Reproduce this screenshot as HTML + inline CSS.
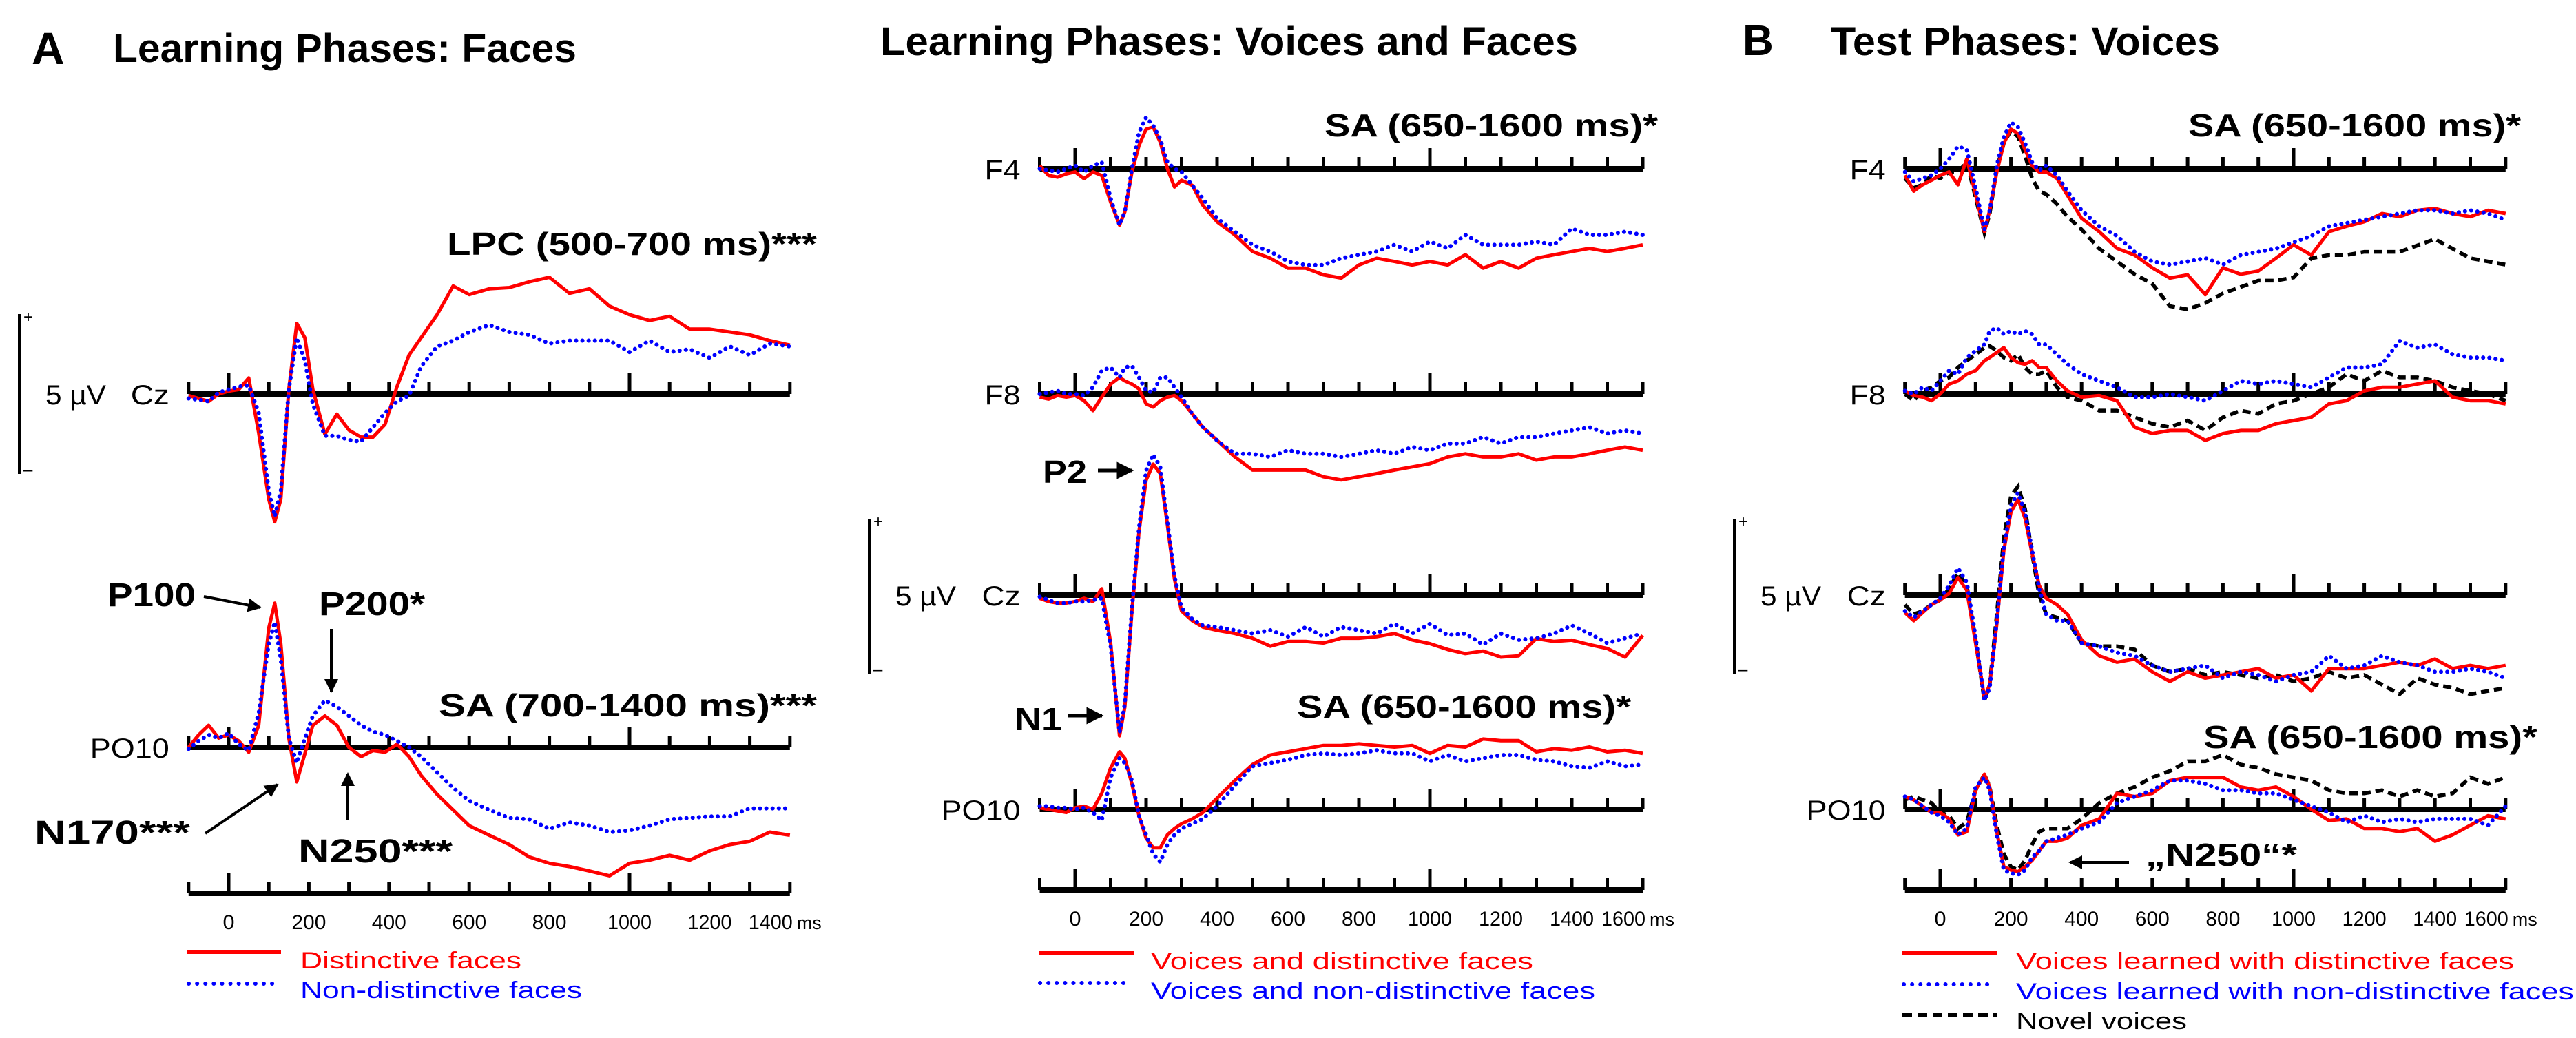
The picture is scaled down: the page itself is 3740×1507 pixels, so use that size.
<!DOCTYPE html>
<html><head><meta charset="utf-8"><style>
html,body{margin:0;padding:0;background:#fff;}
svg{display:block;}
text{font-family:"Liberation Sans",Arial,sans-serif;}
.b{font-weight:bold;}
</style></head><body>
<svg id="fig" width="3740" height="1507" viewBox="0 0 3740 1507" xmlns="http://www.w3.org/2000/svg">
<defs><marker id="ah" viewBox="0 0 10 10" refX="9" refY="5" markerWidth="5" markerHeight="5" orient="auto"><path d="M0,0 L10,5 L0,10 z" fill="#000"/></marker></defs>
<g>
<text class="b" x="46" y="93" font-size="66">A</text>
<text class="b" x="164" y="90" font-size="58" textLength="673" lengthAdjust="spacingAndGlyphs">Learning Phases: Faces</text>
<text class="b" x="1278" y="80" font-size="58" textLength="1013" lengthAdjust="spacingAndGlyphs">Learning Phases: Voices and Faces</text>
<text class="b" x="2530" y="80" font-size="62">B</text>
<text class="b" x="2658" y="80" font-size="58" textLength="565" lengthAdjust="spacingAndGlyphs">Test Phases: Voices</text>
</g>
<g id="plots"></g>
<g>
<text class="b" x="649" y="370" font-size="46" textLength="537" lengthAdjust="spacingAndGlyphs">LPC (500-700 ms)***</text>
<text class="b" x="156" y="880" font-size="48" textLength="128" lengthAdjust="spacingAndGlyphs">P100</text>
<line x1="296" y1="866" x2="378" y2="882" stroke="#000" stroke-width="4" marker-end="url(#ah)"/>
<text class="b" x="463" y="893" font-size="48" textLength="154" lengthAdjust="spacingAndGlyphs">P200*</text>
<line x1="481" y1="913" x2="481" y2="1004" stroke="#000" stroke-width="4" marker-end="url(#ah)"/>
<text class="b" x="637" y="1040" font-size="46" textLength="549" lengthAdjust="spacingAndGlyphs">SA (700-1400 ms)***</text>
<text class="b" x="50" y="1225" font-size="48" textLength="226" lengthAdjust="spacingAndGlyphs">N170***</text>
<line x1="298" y1="1210" x2="403" y2="1139" stroke="#000" stroke-width="4" marker-end="url(#ah)"/>
<text class="b" x="433" y="1252" font-size="48" textLength="224" lengthAdjust="spacingAndGlyphs">N250***</text>
<line x1="505" y1="1190" x2="505" y2="1123" stroke="#000" stroke-width="4" marker-end="url(#ah)"/>
<text class="b" x="1923" y="198" font-size="46" textLength="484" lengthAdjust="spacingAndGlyphs">SA (650-1600 ms)*</text>
<text class="b" x="1514" y="701" font-size="46" textLength="64" lengthAdjust="spacingAndGlyphs">P2</text>
<line x1="1594" y1="683" x2="1644" y2="683" stroke="#000" stroke-width="5" marker-end="url(#ah)"/>
<text class="b" x="1473" y="1060" font-size="46" textLength="69" lengthAdjust="spacingAndGlyphs">N1</text>
<line x1="1550" y1="1039" x2="1600" y2="1039" stroke="#000" stroke-width="5" marker-end="url(#ah)"/>
<text class="b" x="1883" y="1042" font-size="46" textLength="485" lengthAdjust="spacingAndGlyphs">SA (650-1600 ms)*</text>
<text class="b" x="3177" y="198" font-size="46" textLength="483" lengthAdjust="spacingAndGlyphs">SA (650-1600 ms)*</text>
<text class="b" x="3199" y="1086" font-size="46" textLength="485" lengthAdjust="spacingAndGlyphs">SA (650-1600 ms)*</text>
<text class="b" x="3115" y="1257" font-size="46" textLength="220" lengthAdjust="spacingAndGlyphs">„N250“*</text>
<line x1="3091" y1="1252" x2="3005" y2="1252" stroke="#000" stroke-width="4" marker-end="url(#ah)"/>
</g>
<g>
<line x1="272" y1="1382" x2="408" y2="1382" stroke="#f00" stroke-width="6"/>
<text x="436" y="1406" font-size="34" fill="#f00" textLength="321" lengthAdjust="spacingAndGlyphs">Distinctive faces</text>
<line x1="274" y1="1428" x2="400" y2="1428" stroke="#00f" stroke-width="6" stroke-linecap="round" stroke-dasharray="0.1 12"/>
<text x="436" y="1449" font-size="34" fill="#00f" textLength="409" lengthAdjust="spacingAndGlyphs">Non-distinctive faces</text>
<line x1="1508" y1="1383" x2="1647" y2="1383" stroke="#f00" stroke-width="6"/>
<text x="1671" y="1407" font-size="34" fill="#f00" textLength="555" lengthAdjust="spacingAndGlyphs">Voices and distinctive faces</text>
<line x1="1510" y1="1427" x2="1640" y2="1427" stroke="#00f" stroke-width="6" stroke-linecap="round" stroke-dasharray="0.1 12"/>
<text x="1671" y="1450" font-size="34" fill="#00f" textLength="645" lengthAdjust="spacingAndGlyphs">Voices and non-distinctive faces</text>
<line x1="2762" y1="1383" x2="2900" y2="1383" stroke="#f00" stroke-width="6"/>
<text x="2927" y="1407" font-size="34" fill="#f00" textLength="723" lengthAdjust="spacingAndGlyphs">Voices learned with distinctive faces</text>
<line x1="2764" y1="1429" x2="2894" y2="1429" stroke="#00f" stroke-width="6" stroke-linecap="round" stroke-dasharray="0.1 12"/>
<text x="2927" y="1451" font-size="34" fill="#00f" textLength="810" lengthAdjust="spacingAndGlyphs">Voices learned with non-distinctive faces</text>
<line x1="2762" y1="1473" x2="2900" y2="1473" stroke="#000" stroke-width="6" stroke-dasharray="14 8"/>
<text x="2927" y="1494" font-size="34" fill="#000" textLength="248" lengthAdjust="spacingAndGlyphs">Novel voices</text>
</g>
</svg>
<script>
// ---- shared data ----
const timesLeft = [-100,-75,-50,-25,0,25,50,75,100,115,130,150,170,190,210,240,270,300,330,360,390,420,450,480,520,560,600,650,700,750,800,850,900,950,1000,1050,1100,1150,1200,1250,1300,1350,1400];
const timesMid = [-100,-75,-50,-25,0,25,50,75,100,125,140,160,180,200,220,240,260,280,300,330,360,400,450,500,550,600,650,700,750,800,850,900,950,1000,1050,1100,1150,1200,1250,1300,1350,1400,1450,1500,1550,1600];
const timesRight = timesMid;
const tickLabelsLeft = [0,200,400,600,800,1000,1200,1400];
const tickLabelsMid = [0,200,400,600,800,1000,1200,1400,1600];
// Panel A, learning faces (µV)
const leftCzDistinctive = [-0.05,-0.14,-0.23,0,0.09,0.14,0.5,-1.22,-3.29,-4.0,-3.29,0.14,2.21,1.76,0.14,-1.26,-0.63,-1.13,-1.35,-1.35,-0.95,0.23,1.22,1.76,2.48,3.38,3.11,3.29,3.33,3.51,3.65,3.15,3.29,2.75,2.48,2.3,2.43,2.03,2.03,1.94,1.85,1.67,1.53];
const leftCzNonDistinctive = [-0.14,-0.18,-0.23,0.05,0.14,0.23,0.27,-0.59,-3.02,-3.83,-3.02,0.14,1.76,1.04,-0.32,-1.31,-1.31,-1.44,-1.49,-1.04,-0.59,-0.23,-0.05,0.86,1.49,1.67,1.94,2.16,1.94,1.85,1.58,1.67,1.67,1.67,1.31,1.67,1.31,1.4,1.13,1.49,1.22,1.58,1.49];
const leftPO10Distinctive = [0,0.39,0.69,0.29,0.39,0.2,-0.15,0.69,3.73,4.51,3.24,0.29,-1.08,-0.2,0.69,0.98,0.69,0,-0.29,-0.1,-0.15,0.1,-0.29,-0.88,-1.47,-1.96,-2.45,-2.75,-3.04,-3.43,-3.63,-3.73,-3.87,-4.02,-3.63,-3.53,-3.38,-3.53,-3.24,-3.04,-2.94,-2.65,-2.75];
const leftPO10NonDistinctive = [-0.05,0.2,0.39,0.29,0.44,0.1,-0.1,1.08,3.24,3.92,2.75,0.29,-0.49,0.29,0.98,1.47,1.27,0.98,0.69,0.49,0.39,0.2,0,-0.29,-0.78,-1.27,-1.67,-1.96,-2.21,-2.25,-2.55,-2.35,-2.45,-2.65,-2.6,-2.45,-2.25,-2.21,-2.16,-2.16,-1.91,-1.91,-1.91];
// Learning voices and faces
const midF4Distinctive = [0.1,-0.21,-0.26,-0.16,-0.1,-0.31,-0.1,-0.21,-1.04,-1.76,-1.35,-0.1,0.73,1.24,1.3,0.83,0,-0.57,-0.36,-0.52,-1.14,-1.66,-2.07,-2.59,-2.8,-3.11,-3.11,-3.32,-3.42,-3.01,-2.8,-2.9,-3.01,-2.9,-3.01,-2.69,-3.11,-2.9,-3.11,-2.8,-2.69,-2.59,-2.49,-2.59,-2.49,-2.38];
const midF4NonDistinctive = [0,-0.05,-0.1,0,0.1,-0.1,0.1,0.21,-0.93,-1.76,-1.35,0,1.14,1.61,1.35,0.93,0.21,0,-0.1,-0.52,-0.93,-1.55,-1.97,-2.38,-2.59,-2.9,-3.01,-3.01,-2.8,-2.69,-2.59,-2.38,-2.59,-2.28,-2.49,-2.07,-2.38,-2.38,-2.38,-2.28,-2.38,-1.87,-2.07,-2.07,-1.97,-2.07];
const midF8Distinctive = [-0.1,-0.16,-0.05,-0.1,-0.05,-0.21,-0.52,-0.1,0.31,0.52,0.41,0.31,0.16,-0.31,-0.41,-0.21,-0.1,-0.05,-0.21,-0.62,-1.04,-1.45,-1.97,-2.38,-2.38,-2.38,-2.38,-2.59,-2.69,-2.59,-2.49,-2.38,-2.28,-2.18,-1.97,-1.87,-1.97,-1.97,-1.87,-2.07,-1.97,-1.97,-1.87,-1.76,-1.66,-1.76];
const midF8NonDistinctive = [0,0.05,0.1,0,0,-0.05,0.21,0.73,0.83,0.52,0.83,0.88,0.52,0.1,0.05,0.52,0.52,0.21,-0.1,-0.62,-1.04,-1.45,-1.87,-1.87,-1.97,-1.76,-1.87,-1.87,-1.97,-1.87,-1.76,-1.87,-1.66,-1.76,-1.55,-1.55,-1.35,-1.55,-1.35,-1.35,-1.24,-1.14,-1.04,-1.24,-1.14,-1.24];
const midCzDistinctive = [-0.1,-0.2,-0.25,-0.25,-0.2,-0.1,-0.2,0.2,-1.5,-4.4,-3.5,-0.5,2.0,3.6,4.1,3.8,2.2,0.5,-0.5,-0.8,-1.0,-1.1,-1.2,-1.35,-1.6,-1.45,-1.45,-1.5,-1.35,-1.35,-1.3,-1.2,-1.4,-1.52,-1.7,-1.83,-1.75,-1.94,-1.9,-1.36,-1.45,-1.41,-1.55,-1.67,-1.94,-1.26];
const midCzNonDistinctive = [-0.05,-0.15,-0.25,-0.25,-0.2,-0.2,-0.15,-0.1,-1.6,-4.3,-3.4,-0.4,2.1,3.9,4.4,4.0,2.3,0.6,-0.4,-0.75,-0.95,-1.0,-1.1,-1.2,-1.1,-1.3,-1.0,-1.3,-1.0,-1.1,-1.2,-0.9,-1.2,-0.9,-1.25,-1.2,-1.55,-1.2,-1.4,-1.35,-1.2,-0.95,-1.2,-1.5,-1.35,-1.2];
const midPO10Distinctive = [0.05,0,-0.05,-0.1,0.05,0.1,0,0.5,1.3,1.8,1.6,0.8,-0.2,-0.9,-1.2,-1.2,-0.8,-0.6,-0.45,-0.3,-0.1,0.35,0.9,1.4,1.7,1.8,1.9,2.0,2.0,2.05,2.0,1.95,2.0,1.75,2.0,1.95,2.2,2.15,2.15,1.8,1.9,1.85,1.95,1.8,1.85,1.75];
const midPO10NonDistinctive = [0.1,0.1,0.05,0.05,0,0.05,-0.1,-0.35,1.0,1.6,1.45,0.9,-0.2,-0.8,-1.4,-1.65,-1.1,-0.8,-0.6,-0.45,-0.3,0.1,0.75,1.35,1.45,1.55,1.7,1.75,1.7,1.75,1.85,1.75,1.75,1.5,1.7,1.5,1.6,1.7,1.7,1.55,1.5,1.35,1.3,1.5,1.35,1.4];
// Panel B, test voices
const rightF4Distinctive = [-0.2,-0.7,-0.5,-0.36,-0.2,-0.1,-0.5,0.31,-0.8,-1.97,-1.3,-0.1,0.8,1.24,1.1,0.6,0.1,-0.1,-0.1,-0.3,-0.83,-1.55,-1.97,-2.49,-2.7,-3.1,-3.42,-3.32,-3.94,-3.1,-3.3,-3.2,-2.8,-2.38,-2.7,-1.97,-1.8,-1.66,-1.4,-1.5,-1.3,-1.24,-1.4,-1.5,-1.3,-1.4];
const rightF4NonDistinctive = [-0.1,-0.4,-0.3,-0.2,0,0.3,0.7,0.6,-0.6,-1.9,-1.3,0.1,1.0,1.45,1.3,0.8,0.2,-0.05,0.1,-0.2,-0.7,-1.3,-1.8,-2.1,-2.6,-2.9,-3.0,-2.9,-2.8,-3.0,-2.7,-2.6,-2.5,-2.3,-2.1,-1.8,-1.7,-1.6,-1.5,-1.4,-1.3,-1.3,-1.4,-1.3,-1.4,-1.6];
const rightF4Novel = [-0.3,-0.6,-0.5,-0.2,-0.3,-0.1,-0.1,0.2,-0.9,-2.0,-1.4,0,0.8,1.2,1.0,0.4,-0.3,-0.7,-0.8,-1.1,-1.5,-1.9,-2.5,-2.9,-3.3,-3.6,-4.3,-4.4,-4.2,-3.9,-3.7,-3.5,-3.5,-3.4,-2.8,-2.7,-2.7,-2.6,-2.6,-2.6,-2.4,-2.2,-2.5,-2.8,-2.9,-3.0];
const rightF8Distinctive = [0.1,-0.05,-0.1,-0.21,0,0.31,0.41,0.62,0.73,1.04,1.14,1.3,1.45,1.14,0.98,0.93,1.04,0.83,0.83,0.41,0.1,-0.1,-0.05,-0.21,-1.04,-1.24,-1.14,-1.14,-1.45,-1.24,-1.14,-1.14,-0.93,-0.83,-0.73,-0.31,-0.21,0.1,0.21,0.21,0.31,0.41,-0.1,-0.21,-0.21,-0.31];
const rightF8NonDistinctive = [0.1,0,0.21,0.1,0.41,0.73,0.62,1.14,1.35,1.55,1.97,2.07,1.87,1.97,1.87,1.97,1.87,1.55,1.55,1.24,0.93,0.62,0.41,0.21,-0.1,-0.1,0,-0.1,-0.21,0.1,0.41,0.31,0.41,0.31,0.21,0.52,0.83,0.83,0.93,1.66,1.45,1.55,1.24,1.14,1.14,1.04];
const rightF8Novel = [0,-0.21,0.1,0.21,0.41,0.52,0.83,1.04,1.24,1.45,1.5,1.35,1.14,1.04,1.24,0.83,0.62,0.62,0.73,0.21,-0.1,-0.21,-0.52,-0.52,-0.73,-0.93,-1.04,-0.83,-1.14,-0.73,-0.52,-0.62,-0.31,-0.21,0,0.21,0.62,0.41,0.73,0.52,0.52,0.41,0.21,0.1,0,-0.21];
const rightCzDistinctive = [-0.55,-0.8,-0.55,-0.3,-0.15,0.05,0.55,0.15,-1.5,-3.2,-2.8,-0.9,1.4,2.6,3.0,2.4,1.3,0.3,-0.1,-0.3,-0.6,-1.4,-1.9,-2.1,-2.0,-2.4,-2.7,-2.4,-2.6,-2.5,-2.4,-2.3,-2.6,-2.5,-3.0,-2.3,-2.3,-2.3,-2.2,-2.1,-2.2,-2.0,-2.3,-2.2,-2.3,-2.2];
const rightCzNonDistinctive = [-0.5,-0.7,-0.5,-0.3,-0.1,0.3,0.85,0.4,-1.3,-3.3,-2.9,-0.8,1.5,2.8,3.2,2.6,1.4,0.2,-0.6,-0.8,-0.8,-1.5,-1.6,-1.8,-1.9,-2.2,-2.4,-2.3,-2.2,-2.6,-2.4,-2.5,-2.7,-2.5,-2.4,-1.9,-2.3,-2.2,-1.9,-2.1,-2.2,-2.4,-2.4,-2.3,-2.4,-2.6];
const rightCzNovel = [-0.3,-0.6,-0.5,-0.3,-0.15,0.2,0.7,0.3,-1.4,-3.3,-2.8,-0.6,1.8,3.1,3.4,2.7,1.3,0,-0.6,-0.7,-0.8,-1.5,-1.6,-1.6,-1.7,-2.2,-2.4,-2.3,-2.5,-2.4,-2.5,-2.6,-2.5,-2.7,-2.6,-2.4,-2.6,-2.5,-2.8,-3.1,-2.6,-2.8,-2.9,-3.1,-3.0,-2.9];
const rightPO10Distinctive = [0.4,0.3,0.1,-0.1,-0.1,-0.3,-0.8,-0.7,0.6,1.1,0.7,-0.7,-1.8,-1.9,-1.95,-1.8,-1.6,-1.3,-1.0,-1.0,-0.9,-0.5,-0.3,0.5,0.4,0.5,0.9,1.0,1.0,1.0,0.7,0.6,0.7,0.4,0,-0.35,-0.3,-0.6,-0.6,-0.7,-0.6,-1.0,-0.8,-0.5,-0.2,-0.3];
const rightPO10NonDistinctive = [0.4,0.3,0.1,-0.1,-0.2,-0.4,-0.8,-0.6,0.7,1.0,0.6,-0.8,-1.9,-2.0,-2.05,-1.9,-1.5,-1.3,-1.0,-0.9,-0.8,-0.6,-0.4,0.2,0.4,0.6,0.9,0.9,0.8,0.6,0.6,0.5,0.5,0.3,0.1,-0.1,-0.4,-0.2,-0.4,-0.3,-0.4,-0.3,-0.3,-0.3,-0.5,0.1];
const rightPO10Novel = [0.3,0.4,0.3,0.2,-0.1,-0.2,-0.6,-0.4,0.6,1.1,0.7,-0.5,-1.4,-1.8,-1.9,-1.6,-1.1,-0.7,-0.6,-0.6,-0.6,-0.3,0.2,0.5,0.7,1.0,1.2,1.5,1.5,1.7,1.4,1.3,1.1,1.0,0.9,0.6,0.5,0.5,0.6,0.4,0.6,0.4,0.5,1.0,0.8,1.0];

// ---- drawing ----
const NS = "http://www.w3.org/2000/svg";
const root = document.getElementById("plots");
const PX_PER_UV = 46.4;
const LABEL_W = {"Cz":56,"F4":52,"F8":52,"PO10":115};
function el(tag, attrs, parent){ const e=document.createElementNS(NS,tag); for(const k in attrs) e.setAttribute(k,attrs[k]); parent.appendChild(e); return e; }
const STY = {
  red:{stroke:"#f00","stroke-width":5,fill:"none","stroke-linejoin":"round"},
  blue:{stroke:"#00f","stroke-width":6,fill:"none","stroke-linecap":"round","stroke-dasharray":"0.1 9"},
  black:{stroke:"#000","stroke-width":5.5,fill:"none","stroke-dasharray":"12 7"}
};
function makePanel(p){
  const g = el("g",{},root);
  
  
  const xs = t => p.x0 + t*p.pxPerMs;
  const xStart = xs(p.tmin), xEnd = xs(p.tmax);
  function axis(y, label, nm){
    const a = el("g",{},g);
    
    
    el("line",{x1:xStart,y1:y,x2:xEnd,y2:y,stroke:"#000","stroke-width":8},a);
    for(let t=p.tmin;t<=p.tmax;t+=100){
      const tall = (t===0||t===1000);
      const tk = el("line",{x1:xs(t),y1:y,x2:xs(t),y2:y-(tall?30:17),stroke:"#000","stroke-width":5},a);
      
      
    }
    if(label){
      const w = LABEL_W[label];
      const tx = el("text",{x:xStart-28-w,y:y+15,"font-size":40,textLength:w,lengthAdjust:"spacingAndGlyphs"},a);
      tx.textContent = label;
      
      
    }
  }
  p.rows.forEach(r=>{
    axis(r.y, r.label, r.label.toLowerCase()+'-axis');
    r.series.forEach(s=>{
      let d="";
      p.times.forEach((t,i)=>{ d += (i?"L":"M")+xs(t).toFixed(1)+","+(r.y - s.vals[i]*PX_PER_UV).toFixed(1); });
      const path = el("path",Object.assign({d:d},STY[s.style]),g);
      
      
    });
  });
  axis(p.bottom, null, 'time-axis');
  p.ticks.forEach((t,i)=>{
    const last = (i===p.ticks.length-1);
    const tl = el("text",{x:xs(t)-(last?28:0),y:p.bottom+52,"font-size":30,"text-anchor":"middle",textLength:t>=1000?64:(t>0?50:17),lengthAdjust:"spacingAndGlyphs"},g);
    tl.textContent = t;
    
    
  });
  const ms = el("text",{x:xEnd+10,y:p.bottom+52,"font-size":27},g);
  ms.textContent = "ms";
  
  
  // scale bar
  const sb = el("g",{},g);
  
  
  el("line",{x1:p.sbx,y1:p.sbTop,x2:p.sbx,y2:p.sbBot,stroke:"#000","stroke-width":4},sb);
  const plus = el("text",{x:p.sbx+6,y:p.sbTop+12,"font-size":24},sb); plus.textContent="+";
  const minus = el("text",{x:p.sbx+6,y:p.sbBot+2,"font-size":24},sb); minus.textContent="–";
  const uv = el("text",{x:p.sbx+38,y:p.czY+15,"font-size":40,textLength:88,lengthAdjust:"spacingAndGlyphs"},sb); uv.textContent="5 µV";
}
makePanel({name:"panel-learning-faces",x0:332,pxPerMs:0.582,tmin:-100,tmax:1400,times:timesLeft,ticks:tickLabelsLeft,bottom:1297,
  sbx:28,sbTop:456,sbBot:688,czY:572,
  rows:[
    {label:"Cz",y:572,series:[{name:"cz-distinctive-faces",style:"red",vals:leftCzDistinctive},{name:"cz-non-distinctive-faces",style:"blue",vals:leftCzNonDistinctive}]},
    {label:"PO10",y:1085,series:[{name:"po10-distinctive-faces",style:"red",vals:leftPO10Distinctive},{name:"po10-non-distinctive-faces",style:"blue",vals:leftPO10NonDistinctive}]}
  ]});
makePanel({name:"panel-learning-voices-faces",x0:1561,pxPerMs:0.515,tmin:-100,tmax:1600,times:timesMid,ticks:tickLabelsMid,bottom:1292,
  sbx:1262,sbTop:753,sbBot:978,czY:864,
  rows:[
    {label:"F4",y:245,series:[{name:"f4-voices-distinctive",style:"red",vals:midF4Distinctive},{name:"f4-voices-non-distinctive",style:"blue",vals:midF4NonDistinctive}]},
    {label:"F8",y:572,series:[{name:"f8-voices-distinctive",style:"red",vals:midF8Distinctive},{name:"f8-voices-non-distinctive",style:"blue",vals:midF8NonDistinctive}]},
    {label:"Cz",y:864,series:[{name:"cz-voices-distinctive",style:"red",vals:midCzDistinctive},{name:"cz-voices-non-distinctive",style:"blue",vals:midCzNonDistinctive}]},
    {label:"PO10",y:1175,series:[{name:"po10-voices-distinctive",style:"red",vals:midPO10Distinctive},{name:"po10-voices-non-distinctive",style:"blue",vals:midPO10NonDistinctive}]}
  ]});
makePanel({name:"panel-test-voices",x0:2817,pxPerMs:0.513,tmin:-100,tmax:1600,times:timesRight,ticks:tickLabelsMid,bottom:1292,
  sbx:2518,sbTop:753,sbBot:978,czY:864,
  rows:[
    {label:"F4",y:245,series:[{name:"f4-novel",style:"black",vals:rightF4Novel},{name:"f4-learned-distinctive",style:"red",vals:rightF4Distinctive},{name:"f4-learned-non-distinctive",style:"blue",vals:rightF4NonDistinctive}]},
    {label:"F8",y:572,series:[{name:"f8-novel",style:"black",vals:rightF8Novel},{name:"f8-learned-distinctive",style:"red",vals:rightF8Distinctive},{name:"f8-learned-non-distinctive",style:"blue",vals:rightF8NonDistinctive}]},
    {label:"Cz",y:864,series:[{name:"cz-novel",style:"black",vals:rightCzNovel},{name:"cz-learned-distinctive",style:"red",vals:rightCzDistinctive},{name:"cz-learned-non-distinctive",style:"blue",vals:rightCzNonDistinctive}]},
    {label:"PO10",y:1175,series:[{name:"po10-novel",style:"black",vals:rightPO10Novel},{name:"po10-learned-distinctive",style:"red",vals:rightPO10Distinctive},{name:"po10-learned-non-distinctive",style:"blue",vals:rightPO10NonDistinctive}]}
  ]});
</script>
</body></html>
